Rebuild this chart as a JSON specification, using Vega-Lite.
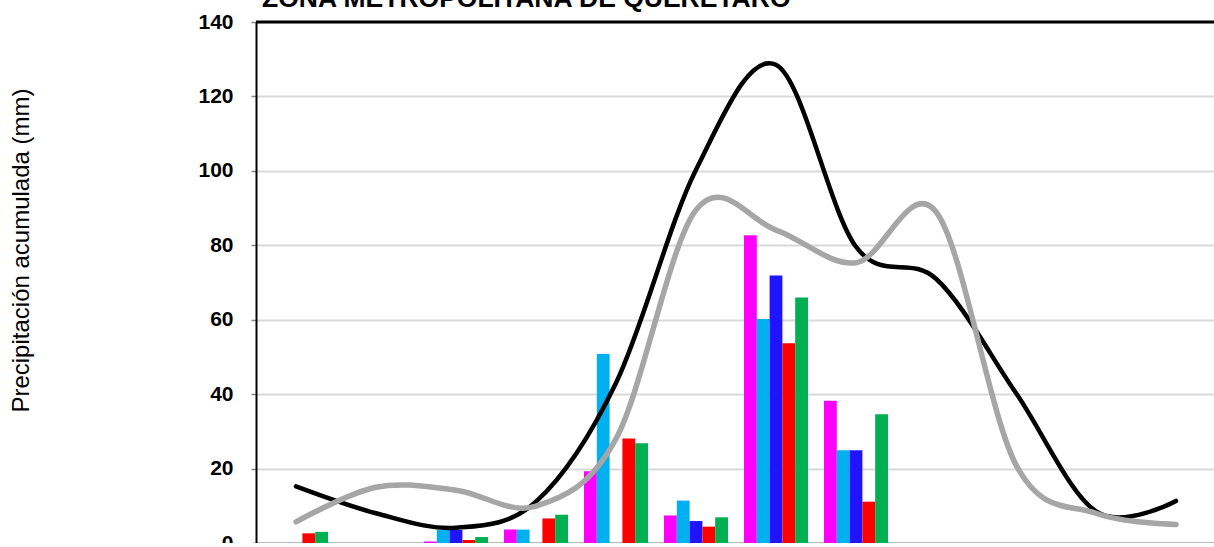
{
  "$schema": "https://vega.github.io/schema/vega-lite/v6.json",
  "width": 960,
  "height": 521,
  "autosize": {"type": "none"},
  "padding": {"left": 256, "top": 22, "right": 0, "bottom": 0},
  "background": "white",
  "config": {"view": {"stroke": null}, "font": "Liberation Sans"},
  "datasets": {
    "barras": [
      {"mes": "Ene", "serie": "2016", "valor": 0},
      {"mes": "Ene", "serie": "2017", "valor": 0},
      {"mes": "Ene", "serie": "2018", "valor": 0},
      {"mes": "Ene", "serie": "2019", "valor": 2.6},
      {"mes": "Ene", "serie": "2020", "valor": 3.0},
      {"mes": "Mar", "serie": "2016", "valor": 0.4},
      {"mes": "Mar", "serie": "2017", "valor": 3.5},
      {"mes": "Mar", "serie": "2018", "valor": 3.5},
      {"mes": "Mar", "serie": "2019", "valor": 0.8},
      {"mes": "Mar", "serie": "2020", "valor": 1.6},
      {"mes": "Abr", "serie": "2016", "valor": 3.6},
      {"mes": "Abr", "serie": "2017", "valor": 3.6},
      {"mes": "Abr", "serie": "2018", "valor": 0},
      {"mes": "Abr", "serie": "2019", "valor": 6.6},
      {"mes": "Abr", "serie": "2020", "valor": 7.6},
      {"mes": "May", "serie": "2016", "valor": 19.3},
      {"mes": "May", "serie": "2017", "valor": 50.8},
      {"mes": "May", "serie": "2018", "valor": 0},
      {"mes": "May", "serie": "2019", "valor": 28.1},
      {"mes": "May", "serie": "2020", "valor": 26.8},
      {"mes": "Jun", "serie": "2016", "valor": 7.4},
      {"mes": "Jun", "serie": "2017", "valor": 11.4},
      {"mes": "Jun", "serie": "2018", "valor": 5.9},
      {"mes": "Jun", "serie": "2019", "valor": 4.4},
      {"mes": "Jun", "serie": "2020", "valor": 6.9},
      {"mes": "Jul", "serie": "2016", "valor": 82.7},
      {"mes": "Jul", "serie": "2017", "valor": 60.2},
      {"mes": "Jul", "serie": "2018", "valor": 71.9},
      {"mes": "Jul", "serie": "2019", "valor": 53.7},
      {"mes": "Jul", "serie": "2020", "valor": 66.0},
      {"mes": "Ago", "serie": "2016", "valor": 38.2},
      {"mes": "Ago", "serie": "2017", "valor": 24.9},
      {"mes": "Ago", "serie": "2018", "valor": 24.9},
      {"mes": "Ago", "serie": "2019", "valor": 11.1},
      {"mes": "Ago", "serie": "2020", "valor": 34.6}
    ],
    "lineas": [
      {"mes": "Ene", "serie": "Máxima", "valor": 15.2},
      {"mes": "Feb", "serie": "Máxima", "valor": 8.0},
      {"mes": "Mar", "serie": "Máxima", "valor": 4.1},
      {"mes": "Abr", "serie": "Máxima", "valor": 11.1},
      {"mes": "May", "serie": "Máxima", "valor": 43.0},
      {"mes": "Jun", "serie": "Máxima", "valor": 100.3},
      {"mes": "Jul", "serie": "Máxima", "valor": 128.5},
      {"mes": "Ago", "serie": "Máxima", "valor": 79.6},
      {"mes": "Sep", "serie": "Máxima", "valor": 71.0},
      {"mes": "Oct", "serie": "Máxima", "valor": 40.3},
      {"mes": "Nov", "serie": "Máxima", "valor": 8.5},
      {"mes": "Dic", "serie": "Máxima", "valor": 11.3},
      {"mes": "Ene", "serie": "Normal", "valor": 5.7},
      {"mes": "Feb", "serie": "Normal", "valor": 15.0},
      {"mes": "Mar", "serie": "Normal", "valor": 14.2},
      {"mes": "Abr", "serie": "Normal", "valor": 9.9},
      {"mes": "May", "serie": "Normal", "valor": 28.0},
      {"mes": "Jun", "serie": "Normal", "valor": 89.5},
      {"mes": "Jul", "serie": "Normal", "valor": 84.1},
      {"mes": "Ago", "serie": "Normal", "valor": 75.3},
      {"mes": "Sep", "serie": "Normal", "valor": 89.0},
      {"mes": "Oct", "serie": "Normal", "valor": 21.0},
      {"mes": "Nov", "serie": "Normal", "valor": 8.0},
      {"mes": "Dic", "serie": "Normal", "valor": 5.0}
    ]
  },
  "encoding": {
    "x": {
      "field": "mes",
      "type": "nominal",
      "sort": ["Ene", "Feb", "Mar", "Abr", "May", "Jun", "Jul", "Ago", "Sep", "Oct", "Nov", "Dic"],
      "scale": {
        "domain": ["Ene", "Feb", "Mar", "Abr", "May", "Jun", "Jul", "Ago", "Sep", "Oct", "Nov", "Dic"],
        "paddingInner": 0,
        "paddingOuter": 0
      },
      "axis": {
        "title": null,
        "bandPosition": 0,
        "domainColor": "#868686",
        "domainWidth": 2,
        "tickColor": "#868686",
        "tickWidth": 2,
        "tickSize": 6,
        "labels": false,
        "grid": false
      }
    },
    "y": {
      "field": "valor",
      "type": "quantitative",
      "scale": {"domain": [0, 140], "nice": false, "zero": true},
      "axis": {
        "title": "Precipitación acumulada (mm)",
        "titleFont": "Liberation Sans",
        "titleFontSize": 24,
        "titleFontWeight": "normal",
        "titleColor": "black",
        "titleAngle": -90,
        "titleAlign": "center",
        "titleBaseline": "alphabetic",
        "titleX": -228,
        "titleY": 228,
        "values": [0, 20, 40, 60, 80, 100, 120, 140],
        "labelFont": "Liberation Sans",
        "labelFontSize": 21,
        "labelFontWeight": "bold",
        "labelColor": "black",
        "labelPadding": 18,
        "domainColor": "black",
        "domainWidth": 2,
        "tickColor": "#868686",
        "tickWidth": 1.5,
        "tickSize": 5,
        "grid": true,
        "gridColor": "#d9d9d9",
        "gridWidth": 2
      }
    }
  },
  "layer": [
    {
      "data": {"name": "barras"},
      "mark": {"type": "bar", "binSpacing": 0},
      "encoding": {
        "xOffset": {
          "field": "serie",
          "type": "nominal",
          "scale": {"domain": ["2016", "2017", "2018", "2019", "2020"], "paddingInner": 0, "paddingOuter": 0.625}
        },
        "color": {
          "field": "serie",
          "type": "nominal",
          "scale": {
            "domain": ["2016", "2017", "2018", "2019", "2020", "Máxima", "Normal"],
            "range": ["#ff00ff", "#00b0f0", "#2014ff", "#ff0000", "#00b050", "#000000", "#a6a6a6"]
          },
          "legend": null
        }
      }
    },
    {
      "data": {"values": [{"tope": 140}]},
      "mark": {"type": "rule", "color": "black", "strokeWidth": 3},
      "encoding": {"y": {"field": "tope", "type": "quantitative"}, "x": null}
    },
    {
      "data": {"name": "lineas"},
      "transform": [{"filter": "datum.serie == 'Máxima'"}],
      "mark": {"type": "line", "interpolate": "cardinal", "strokeWidth": 4.5, "strokeCap": "round", "color": "#000000"},
      "encoding": {}
    },
    {
      "data": {"name": "lineas"},
      "transform": [{"filter": "datum.serie == 'Normal'"}],
      "mark": {"type": "line", "interpolate": "cardinal", "strokeWidth": 5.5, "strokeCap": "round", "color": "#a6a6a6"},
      "encoding": {}
    },
    {
      "data": {"values": [{"titulo": "ZONA METROPOLITANA DE QUERÉTARO", "mes": "Ene", "tope": 140}]},
      "mark": {
        "type": "text",
        "font": "Liberation Sans",
        "fontSize": 26.5,
        "fontWeight": "bold",
        "color": "black",
        "align": "left",
        "baseline": "alphabetic",
        "dx": 6,
        "dy": -15
      },
      "encoding": {
        "x": {"field": "mes", "type": "nominal", "bandPosition": 0},
        "y": {"field": "tope", "type": "quantitative"},
        "text": {"field": "titulo"}
      }
    }
  ]
}
